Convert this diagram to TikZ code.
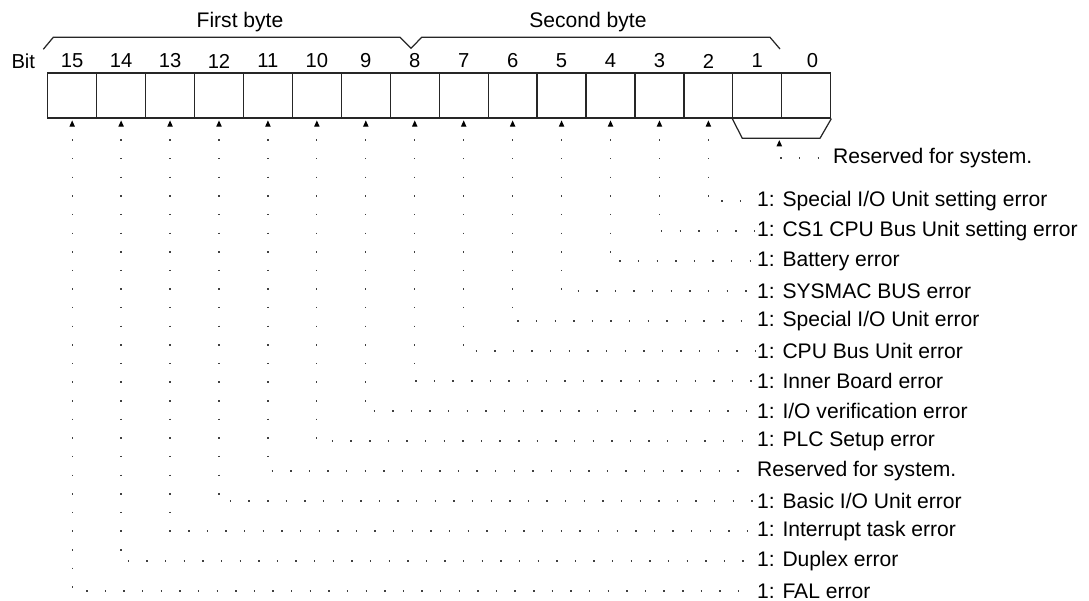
\documentclass[tikz,border=0pt]{standalone}
\usepackage{fontspec}
\setmainfont{Liberation Sans}
\usetikzlibrary{arrows.meta}
\tikzset{
  cell/.style={draw=black!85, line width=0.7pt, minimum width=0.9788cm,
    minimum height=0.9cm, inner sep=0pt},
  bitno/.style={font=\fontsize{11.5}{13}\selectfont, inner sep=0pt},
  desc/.style={font=\fontsize{12}{14}\selectfont, anchor=west, inner sep=1pt},
  frame/.style={draw=black!85, line width=0.7pt},
  link/.style={line width=0.7pt, draw=black!75,
    dash pattern=on 0.8pt off 9.8pt, dash phase=3.2pt,
    {Triangle[length=3.6pt,width=3pt,fill=black,color=black]}-, shorten <=1pt}
}
\begin{document}
\begin{tikzpicture}[x=0.02cm,y=-0.02cm]
  \useasboundingbox (0,0) rectangle (1089,601);
  % register cells, bit 15 on the left
  \foreach \b in {0,...,15}
    \node[cell] (c\b) at ({72.17+(15-\b)*48.94},95.5) {};
  \foreach \b in {1,...,15}
    \node[bitno] (n\b) at ({72.17+(15-\b)*48.94},61) {\b};
  \node[bitno] (n0) at (812.5,61) {0};
  \node[bitno] (bit) at (23.3,61) {Bit};
  % byte braces
  \draw[frame] (43.3,49.3) -- (53.3,37.3) -- (400,37.3) -- (411,48.3)
    -- (421.7,37.3) -- (770,37.3) -- (780,49);
  \node[bitno, font=\fontsize{12}{14}\selectfont] (fb) at (240,21.7) {First byte};
  \node[bitno, font=\fontsize{12}{14}\selectfont] (sb) at (588,21.7) {Second byte};
  % bits 1 and 0
  \draw[frame] (c1.south west) -- (742.3,138.3) -- (820,138.3) -- (c0.south east);
  \coordinate (rb) at (779.3,138.3);
  \node[desc] (t0) at (831,158) {Reserved for system.};
  \draw[link] (rb) |- (t0.west);
  % one flag per bit
  \foreach \b/\txt in {2/{1: Special I/O Unit setting error},
      3/{1: CS1 CPU Bus Unit setting error}, 4/{1: Battery error},
      5/{1: SYSMAC BUS error}, 6/{1: Special I/O Unit error},
      7/{1: CPU Bus Unit error}, 8/{1: Inner Board error},
      9/{1: I/O verification error}, 10/{1: PLC Setup error},
      11/{Reserved for system.}, 12/{1: Basic I/O Unit error},
      13/{1: Interrupt task error}, 14/{1: Duplex error},
      15/{1: FAL error}}
  {
    \node[desc] (t\b) at (755,{201+(\b-2)*30}) {\txt};
    \draw[link] (c\b.south) |- (t\b.west);
  }
\end{tikzpicture}
\end{document}
